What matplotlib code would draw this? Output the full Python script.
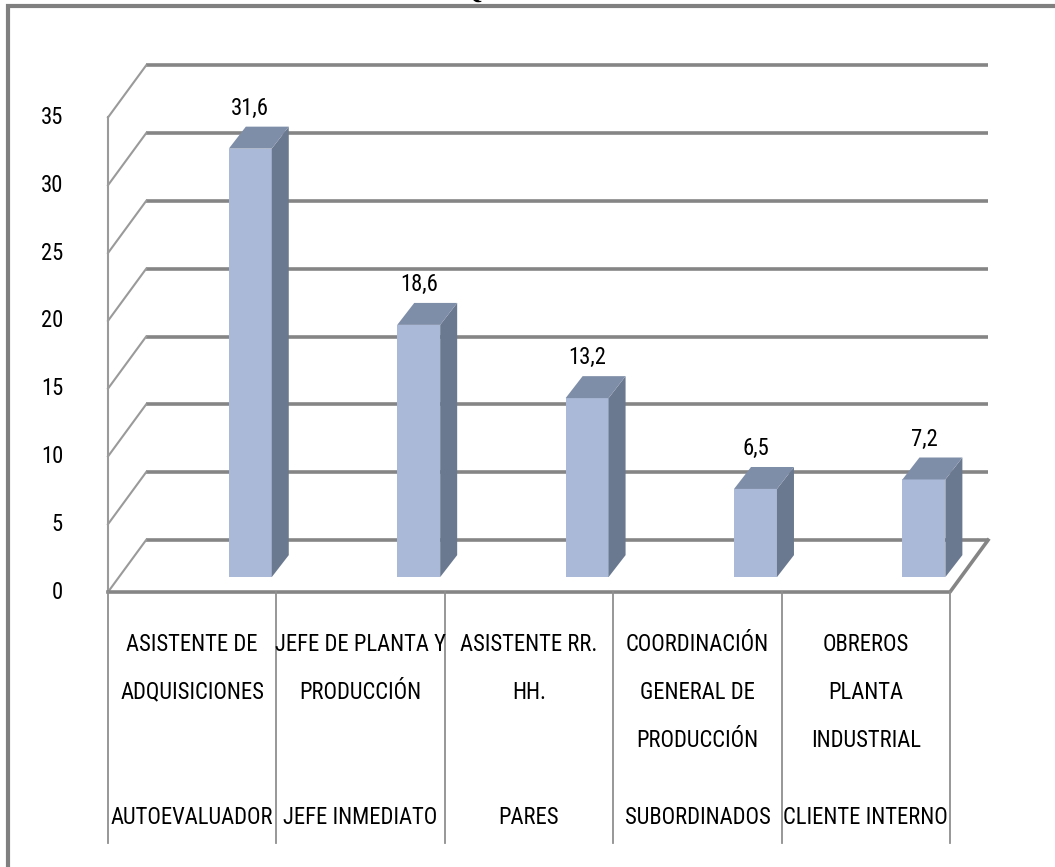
import matplotlib
matplotlib.use("Agg")
import matplotlib.pyplot as plt
from matplotlib import font_manager
from matplotlib.patches import Polygon, Rectangle

# datos del grafico
cargos = ["ASISTENTE DE\nADQUISICIONES", "JEFE DE PLANTA Y\nPRODUCCIÓN", "ASISTENTE RR.\nHH.",
          "COORDINACIÓN\nGENERAL DE\nPRODUCCIÓN", "OBREROS\nPLANTA\nINDUSTRIAL"]
evaluadores = ["AUTOEVALUADOR", "JEFE INMEDIATO", "PARES", "SUBORDINADOS", "CLIENTE INTERNO"]
valores = [31.6, 18.6, 13.2, 6.5, 7.2]
etiquetas = ["31,6", "18,6", "13,2", "6,5", "7,2"]
ticks_y = [0, 5, 10, 15, 20, 25, 30, 35]


def elegir_fuente():
    for fam in ["Liberation Sans Narrow", "Roboto Condensed", "Open Sans Condensed"]:
        try:
            font_manager.findfont(font_manager.FontProperties(family=fam), fallback_to_default=False)
            return fam, 16.3
        except ValueError:
            pass
    return "Liberation Sans", 14


fuente, tam = elegir_fuente()
plt.rcParams['font.family'] = [fuente, 'DejaVu Sans']

# profundidad de la pared y de las barras (en unidades de datos)
DX, DY = 0.226, 3.83
BDX, BDY = 0.101, 1.62
BY0 = 1.1
OFF, ANCHO = 0.345, 0.255
ymax = ticks_y[-1]
n = len(valores)

fig = plt.figure(figsize=(10.55, 8.67), dpi=100)
ax = fig.add_axes([0, 0, 1, 1])
ax.set_xlim(-1.1413, 5.1235)
ax.set_ylim(-20.28, 43.66)
ax.axis('off')

gris = '#858585'
# pared del fondo y lateral
for t in ticks_y:
    ax.plot([-0.5 + DX, n - 0.5 + DX], [t + DY, t + DY], color=gris, lw=2.6, solid_capstyle='butt', zorder=1)
    ax.plot([-0.5, -0.5 + DX], [t, t + DY], color='#9a9a9a', lw=1.5, zorder=1)
    ax.text(-0.767, t, str(t), ha='right', va='center', fontsize=tam)
ax.plot([-0.5, -0.5], [0, ymax], color='#9a9a9a', lw=1.5, zorder=1)
# piso
ax.plot([-0.5, n - 0.5, n - 0.5 + DX], [0, 0, DY], color=gris, lw=2.6, zorder=1)

# barras
xs = [i + OFF for i in range(n)]
ax.bar(xs, valores, width=ANCHO, bottom=BY0, color='#AAB9D7', zorder=3)
for x, v, lab in zip(xs, valores, etiquetas):
    x0, x1 = x - ANCHO / 2, x + ANCHO / 2
    top = BY0 + v
    ax.add_patch(Polygon([(x1, BY0), (x1 + BDX, BY0 + BDY), (x1 + BDX, top + BDY), (x1, top)],
                         closed=True, fc='#6B7990', ec='none', zorder=3))
    ax.add_patch(Polygon([(x0, top), (x1, top), (x1 + BDX, top + BDY), (x0 + BDX, top + BDY)],
                         closed=True, fc='#7F8EA8', ec='none', zorder=3))
    ax.text(x, top + BDY + 0.5, lab, ha='center', va='bottom', fontsize=tam, zorder=4)

# ejes de categorias
for i in range(n + 1):
    ax.plot([i - 0.5, i - 0.5], [0, -18.5], color='#8f8f8f', lw=1.3, zorder=1)
for i in range(n):
    for k, linea in enumerate(cargos[i].split('\n')):
        ax.text(i, -3.85 - k * 3.54, linea, ha='center', va='center', fontsize=tam)
    ax.text(i, -16.6, evaluadores[i], ha='center', va='center', fontsize=tam)

# marco y titulo recortado
fig.add_artist(Rectangle((8 / 1055, -0.1), 1.2, (867 - 6) / 867 + 0.1, transform=fig.transFigure,
                         fill=False, ec='#808080', lw=3))
fig.text(471 / 1055, 1 + 2 / 867, "Q", ha='center', va='baseline', fontsize=20,
         fontweight='bold', family='Liberation Serif')

plt.savefig("out.png", dpi=100)
